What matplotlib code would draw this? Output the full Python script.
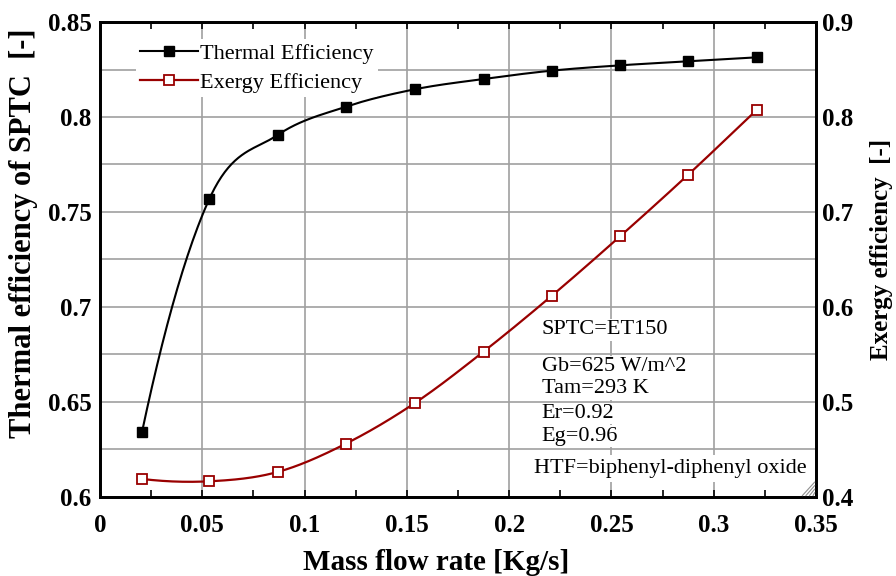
import numpy as np
import matplotlib.pyplot as plt
from matplotlib.ticker import FixedLocator

# mass flow rate [kg/s] and the two efficiencies
flow = [0.0205, 0.0535, 0.0868, 0.1202, 0.1540, 0.1875, 0.2209, 0.2544, 0.2874, 0.3210]
thermal = [0.634, 0.757, 0.7905, 0.8054, 0.8146, 0.8200, 0.8244, 0.8272, 0.8293, 0.8314]
exergy = [0.419, 0.4165, 0.4263, 0.4561, 0.499, 0.553, 0.6119, 0.6747, 0.739, 0.8074]

x_ticks = [0, 0.05, 0.1, 0.15, 0.2, 0.25, 0.3, 0.35]
x_labels = ['0', '0.05', '0.1', '0.15', '0.2', '0.25', '0.3', '0.35']
y_ticks = [0.6, 0.65, 0.7, 0.75, 0.8, 0.85]
y_labels = ['0.6', '0.65', '0.7', '0.75', '0.8', '0.85']
y2_ticks = [0.4, 0.5, 0.6, 0.7, 0.8, 0.9]
y2_labels = ['0.4', '0.5', '0.6', '0.7', '0.8', '0.9']

notes = ["SPTC=ET150", "Gb=625 W/m^2", "Tam=293 K", "Er=0.92", "Eg=0.96"]
htf_note = "HTF=biphenyl-diphenyl oxide"


def smooth(x, y, n=40):
    # cubic Hermite through the points, like a spreadsheet smoothed line
    x = np.asarray(x, float)
    y = np.asarray(y, float)
    m = np.empty_like(y)
    m[1:-1] = (y[2:] - y[:-2]) / (x[2:] - x[:-2])
    d0 = (y[1] - y[0]) / (x[1] - x[0])
    d1 = (y[2] - y[1]) / (x[2] - x[1])
    h0, h1 = x[1] - x[0], x[2] - x[1]
    m[0] = ((2 * h0 + h1) * d0 - h0 * d1) / (h0 + h1)
    m[-1] = (y[-1] - y[-2]) / (x[-1] - x[-2])
    xs, ys = [], []
    for i in range(len(x) - 1):
        h = x[i + 1] - x[i]
        t = np.linspace(0, 1, n, endpoint=(i == len(x) - 2))
        h00 = 2 * t**3 - 3 * t**2 + 1
        h10 = t**3 - 2 * t**2 + t
        h01 = -2 * t**3 + 3 * t**2
        h11 = t**3 - t**2
        xs.append(x[i] + t * h)
        ys.append(h00 * y[i] + h10 * h * m[i] + h01 * y[i + 1] + h11 * h * m[i + 1])
    return np.concatenate(xs), np.concatenate(ys)


plt.rcParams['font.family'] = 'Liberation Serif'

fig = plt.figure(figsize=(8.96, 5.76), dpi=100)
ax = fig.add_axes([0.1116, 0.1372, 0.7991, 0.8246])
ax2 = ax.twinx()

red = '#990000'
xs, ys = smooth(flow, thermal)
ax.plot(xs, ys, color='black', lw=1.5, zorder=3)
ax.plot(flow, thermal, ls='none', marker='s', ms=7.5, color='black', zorder=4)
xs, ys = smooth(flow, exergy)
ax2.plot(xs, ys, color=red, lw=1.6, zorder=3)
ax2.plot(flow, exergy, ls='none', marker='s', ms=7.5, mfc='white', mec=red, mew=1.3, zorder=4)

ax.set_xlim(0, 0.35)
ax.set_ylim(0.6, 0.85)
ax2.set_ylim(0.4, 0.9)

ax.set_xticks(x_ticks, x_labels)
ax.xaxis.set_minor_locator(FixedLocator(np.arange(0.025, 0.35, 0.05)))
ax.set_yticks(y_ticks, y_labels)
ax.yaxis.set_minor_locator(FixedLocator(np.arange(0.625, 0.85, 0.05)))
ax2.set_yticks(y2_ticks, y2_labels)

ax.grid(True, which='both', axis='y', color='#a0a0a0', lw=1.2)
ax.grid(True, which='major', axis='x', color='#a0a0a0', lw=1.2)
ax.set_axisbelow(True)

ax.tick_params(axis='x', which='both', direction='in', top=True, length=5,
               width=1.2, labelsize=18, pad=12)
ax.tick_params(axis='y', which='both', length=0, labelsize=18, pad=6)
ax2.tick_params(axis='y', which='both', length=0, labelsize=18, pad=4)
for lab in ax.get_xticklabels() + ax.get_yticklabels() + ax2.get_yticklabels():
    lab.set_fontweight('bold')

for a in (ax, ax2):
    for s in a.spines.values():
        s.set_linewidth(2)

ax.set_xlabel('Mass flow rate [Kg/s]', fontsize=21, fontweight='bold')
ax.xaxis.set_label_coords(0.47, -0.11)
ax.set_ylabel('Thermal efficiency of SPTC  [-]', fontsize=22, fontweight='bold')
ax.yaxis.set_label_coords(-0.086, 0.556)
ax2.set_ylabel('Exergy efficiency  [-]', fontsize=18, fontweight='bold')
ax2.yaxis.set_label_coords(1.075, 0.522)

# legend with handles from both axes
h1 = plt.Line2D([], [], color='black', lw=1.5, marker='s', ms=7.5)
h2 = plt.Line2D([], [], color=red, lw=1.6, marker='s', ms=7.5, mfc='white', mec=red, mew=1.3)
leg = ax2.legend([h1, h2], ['Thermal Efficiency', 'Exergy Efficiency'],
                 loc='upper left', bbox_to_anchor=(0.05, 0.965), frameon=True,
                 fontsize=16, handlelength=2.6, handletextpad=0.1,
                 labelspacing=0.38, borderpad=0.2, borderaxespad=0)
leg.get_frame().set_edgecolor('none')
leg.get_frame().set_facecolor('white')
leg.get_frame().set_alpha(1)

box = dict(facecolor='white', edgecolor='none', pad=1)
note_y = [0.352, 0.274, 0.228, 0.176, 0.128]
for txt, yy in zip(notes, note_y):
    ax2.text(0.617, yy, txt, transform=ax.transAxes, fontsize=16,
             ha='left', va='center', bbox=box, zorder=5)
ax2.text(0.987, 0.06, htf_note, transform=ax.transAxes, fontsize=16,
         ha='right', va='center', bbox=dict(facecolor='white', edgecolor='none', pad=3),
         zorder=5)

# size grip in the lower right corner
for k in range(4):
    off = 0.004 + k * 0.005
    ax2.plot([1 - off, 1 - 0.002], [0.003, 0.003 + off * 1.48], transform=ax.transAxes,
             color='#909090', lw=0.8, zorder=6, clip_on=False)

fig.savefig('out.png', dpi=100)
